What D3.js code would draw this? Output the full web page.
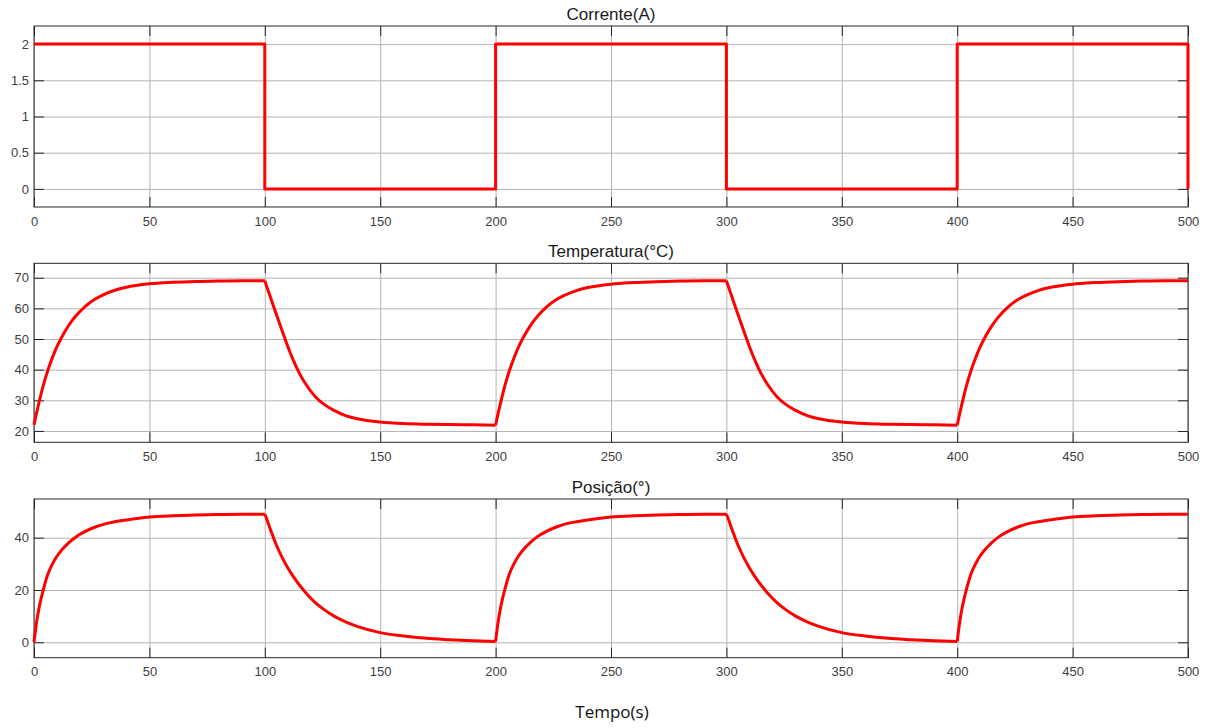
<!DOCTYPE html>
<html>
<head>
<meta charset="utf-8">
<script src="https://cdn.jsdelivr.net/npm/d3@7"></script>
<style>
  body { margin: 0; background: #fff; }
  svg { display: block; }
  .tick text { font-family: "Liberation Sans", Arial, sans-serif; font-size: 13px; fill: #404040; }
  .title { font-family: "Liberation Sans", Arial, sans-serif; font-size: 17px; fill: #1a1a1a; }
  .xlabel { font-family: "Open Sans", sans-serif; font-size: 17px; fill: #111; }
</style>
</head>
<body>
<svg id="chart" width="1209" height="728"></svg>
<script>
// current (A) - square wave
var currentTime  = [0, 100, 100, 200, 200, 300, 300, 400, 400, 500, 500];
var currentValue = [2, 2, 0, 0, 2, 2, 0, 0, 2, 2, 0];

// sample times (s) for temperature and position
var time = [
  0,1,2,3,4,6,8,10,12,15,18,22,26,30,35,40,50,60,70,80,90,100,
  101,102,103,104,106,108,110,112,115,118,122,126,130,135,140,150,160,170,180,190,200,
  201,202,203,204,206,208,210,212,215,218,222,226,230,235,240,250,260,270,280,290,300,
  301,302,303,304,306,308,310,312,315,318,322,326,330,335,340,350,360,370,380,390,400,
  401,402,403,404,406,408,410,412,415,418,422,426,430,435,440,450,460,470,480,490,500
];

var temperature = [
  22.0,25.5,28.8,31.9,34.8,39.8,44.0,47.6,50.6,54.4,57.4,60.5,62.8,64.4,65.9,66.9,68.0,68.5,68.8,68.9,69.0,69.0,
  66.8,64.6,62.4,60.2,55.9,51.6,47.5,43.7,38.8,35.0,31.1,28.5,26.7,25.0,24.0,22.9,22.4,22.2,22.1,22.0,21.9,
  25.4,28.7,31.8,34.7,39.7,43.9,47.5,50.5,54.3,57.3,60.4,62.7,64.3,65.8,66.8,67.9,68.4,68.7,68.9,69.0,69.0,
  66.8,64.6,62.4,60.2,55.9,51.6,47.5,43.7,38.8,35.0,31.1,28.5,26.7,25.0,24.0,22.9,22.4,22.2,22.1,22.0,21.9,
  25.4,28.7,31.8,34.7,39.7,43.9,47.5,50.5,54.3,57.3,60.4,62.7,64.3,65.8,66.8,67.9,68.4,68.7,68.9,69.0,69.0
];

var position = [
  0.0,7.0,12.3,16.5,20.0,26.0,30.0,33.0,35.3,38.0,40.2,42.3,43.9,45.1,46.1,46.8,47.9,48.4,48.7,48.9,49.0,49.0,
  46.8,44.2,41.8,39.4,35.2,31.6,28.4,25.6,21.9,18.7,15.1,12.3,10.0,7.8,6.1,3.7,2.4,1.5,1.0,0.6,0.3,
  7.2,12.5,16.7,20.2,26.2,30.1,33.1,35.4,38.1,40.3,42.4,44.0,45.2,46.1,46.8,47.9,48.4,48.7,48.9,49.0,49.0,
  46.8,44.2,41.8,39.4,35.2,31.6,28.4,25.6,21.9,18.7,15.1,12.3,10.0,7.8,6.1,3.7,2.4,1.5,1.0,0.6,0.3,
  7.2,12.5,16.7,20.2,26.2,30.1,33.1,35.4,38.1,40.3,42.4,44.0,45.2,46.1,46.8,47.9,48.4,48.7,48.9,49.0,49.0
];

var xTicks = [0, 50, 100, 150, 200, 250, 300, 350, 400, 450, 500];

var svg = d3.select("#chart");
var left = 34, right = 1188;
var x = d3.scaleLinear().domain([0, 500]).range([left, right]);

function drawPanel(opt) {
  var y = d3.scaleLinear().domain(opt.domain).range([opt.bottom, opt.top]);
  var h = opt.bottom - opt.top, w = right - left;
  var g = svg.append("g");

  // grid
  g.append("g")
    .attr("transform", "translate(0," + opt.bottom + ")")
    .call(d3.axisBottom(x).tickValues(xTicks).tickSize(-h).tickFormat(""))
    .call(function(s) { s.select(".domain").remove(); s.selectAll("line").attr("stroke", "#b4b4b4"); });
  g.append("g")
    .attr("transform", "translate(" + left + ",0)")
    .call(d3.axisLeft(y).tickValues(opt.ticks).tickSize(-w).tickFormat(""))
    .call(function(s) { s.select(".domain").remove(); s.selectAll("line").attr("stroke", "#b4b4b4"); });

  // ticks (inside) + labels
  var fmt = function(d) { return String(d); };
  g.append("g")
    .attr("transform", "translate(0," + opt.bottom + ")")
    .call(d3.axisBottom(x).tickValues(xTicks).tickSize(-10).tickPadding(9.5).tickFormat(fmt))
    .call(function(s) { s.select(".domain").remove(); s.selectAll("line").attr("stroke", "#262626"); s.selectAll("text").attr("font-family", null).attr("font-size", null).attr("fill", null); });
  g.append("g")
    .attr("transform", "translate(0," + opt.top + ")")
    .call(d3.axisTop(x).tickValues(xTicks).tickSize(-10).tickFormat(""))
    .call(function(s) { s.select(".domain").remove(); s.selectAll("line").attr("stroke", "#262626"); });
  g.append("g")
    .attr("transform", "translate(" + left + ",0)")
    .call(d3.axisLeft(y).tickValues(opt.ticks).tickSize(-10).tickPadding(5).tickFormat(fmt))
    .call(function(s) { s.select(".domain").remove(); s.selectAll("line").attr("stroke", "#262626"); s.selectAll("text").attr("font-family", null).attr("font-size", null).attr("fill", null); });
  g.append("g")
    .attr("transform", "translate(" + right + ",0)")
    .call(d3.axisRight(y).tickValues(opt.ticks).tickSize(-10).tickFormat(""))
    .call(function(s) { s.select(".domain").remove(); s.selectAll("line").attr("stroke", "#262626"); });

  // box
  g.append("rect")
    .attr("x", left).attr("y", opt.top)
    .attr("width", w).attr("height", h)
    .attr("fill", "none").attr("stroke", "#262626").attr("stroke-width", 1);

  // title
  g.append("text")
    .attr("class", "title")
    .attr("x", (left + right) / 2).attr("y", opt.top - 6.5)
    .attr("text-anchor", "middle")
    .text(opt.title);

  // data
  var line = d3.line()
    .x(function(d) { return x(d[0]); })
    .y(function(d) { return y(d[1]); })
    .curve(opt.curve);
  opt.segments.forEach(function(seg) {
    g.append("path")
      .datum(seg)
      .attr("d", line)
      .attr("fill", "none")
      .attr("stroke", "#ff0000")
      .attr("stroke-width", 3)
      .attr("stroke-linejoin", "round")
      .attr("stroke-linecap", "butt");
  });
}

// split the sampled series into heating / cooling halves so the corners stay sharp
function halves(t, v) {
  var out = [];
  for (var k = 0; k < 5; k++) {
    var seg = [];
    t.forEach(function(tt, i) { if (tt >= k * 100 && tt <= (k + 1) * 100) seg.push([tt, v[i]]); });
    out.push(seg);
  }
  return out;
}

drawPanel({
  top: 26, bottom: 207, domain: [-0.25, 2.25], ticks: [0, 0.5, 1, 1.5, 2],
  title: "Corrente(A)", curve: d3.curveLinear,
  segments: [currentTime.map(function(t, i) { return [t, currentValue[i]]; })]
});

drawPanel({
  top: 263.3, bottom: 442.3, domain: [16.3, 74.7], ticks: [20, 30, 40, 50, 60, 70],
  title: "Temperatura(°C)", curve: d3.curveMonotoneX,
  segments: halves(time, temperature)
});

drawPanel({
  top: 499, bottom: 657.7, domain: [-5.9, 54.8], ticks: [0, 20, 40],
  title: "Posição(°)", curve: d3.curveMonotoneX,
  segments: halves(time, position)
});

svg.append("text")
  .attr("class", "xlabel")
  .attr("x", 612).attr("y", 717.7)
  .attr("text-anchor", "middle")
  .text("Tempo(s)");
</script>
</body>
</html>
